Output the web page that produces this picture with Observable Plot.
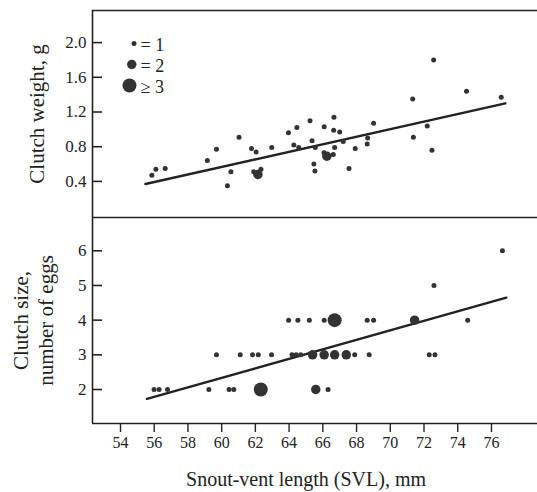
<!DOCTYPE html>
<html><head><meta charset="utf-8">
<script src="https://cdn.jsdelivr.net/npm/d3@7"></script>
<script src="https://cdn.jsdelivr.net/npm/@observablehq/plot@0.6"></script>
<style>
html,body{margin:0;padding:0;background:#fff;}
#chart svg{display:block;overflow:visible;}
</style></head><body><div id="chart"></div>
<script>
// ---- data ----
const xTicks = [54, 56, 58, 60, 62, 64, 66, 68, 70, 72, 74, 76];
const weightTicks = [0.4, 0.8, 1.2, 1.6, 2.0];
const sizeTicks = [2, 3, 4, 5, 6];

// Upper panel: clutch weight (g) vs SVL (mm); count = number of overlapping females
const svlW = [55.86, 56.10, 56.65, 59.15, 59.69, 61.03, 60.55, 60.34, 61.77, 62.04, 62.15, 61.90, 62.33,
  62.97, 63.96, 64.46, 64.28, 64.57, 65.24, 65.36, 65.47, 65.53, 65.55, 66.08, 66.66, 66.64, 67.00,
  67.21, 66.70, 66.24, 66.07, 66.62, 67.55, 67.92, 68.66, 68.63, 69.01, 71.33, 71.37, 72.19, 72.47,
  72.57, 74.52, 76.58];
const weightG = [0.47, 0.54, 0.55, 0.64, 0.77, 0.91, 0.51, 0.35, 0.78, 0.74, 0.48, 0.51, 0.54,
  0.79, 0.96, 1.02, 0.82, 0.79, 1.10, 0.87, 0.60, 0.52, 0.79, 1.03, 1.14, 0.99, 0.97,
  0.86, 0.79, 0.69, 0.73, 0.71, 0.55, 0.78, 0.90, 0.83, 1.07, 1.35, 0.91, 1.04, 0.76,
  1.80, 1.44, 1.37];
const countW = [1, 1, 1, 1, 1, 1, 1, 1, 1, 1, 2, 1, 1,
  1, 1, 1, 1, 1, 1, 1, 1, 1, 1, 1, 1, 1, 1,
  1, 1, 2, 1, 1, 1, 1, 1, 1, 1, 1, 1, 1, 1,
  1, 1, 1];
const fitWSvl = [55.48, 76.82];
const fitWG = [0.37, 1.30];

// Lower panel: clutch size (eggs) vs SVL (mm)
const svlS = [55.99, 56.29, 56.79, 59.24, 60.44, 60.72, 62.32, 65.58, 66.31,
  59.69, 61.10, 61.83, 62.17, 62.96, 64.17, 64.42, 64.69, 65.39, 66.08, 66.70, 67.39, 67.89, 68.75, 72.31, 72.65,
  63.97, 64.52, 65.20, 66.08, 66.70, 68.63, 69.01, 71.44, 74.59,
  72.59, 76.65];
const eggs = [2, 2, 2, 2, 2, 2, 2, 2, 2,
  3, 3, 3, 3, 3, 3, 3, 3, 3, 3, 3, 3, 3, 3, 3, 3,
  4, 4, 4, 4, 4, 4, 4, 4, 4,
  5, 6];
const countS = [1, 1, 1, 1, 1, 1, 3, 2, 1,
  1, 1, 1, 1, 1, 1, 1, 1, 2, 2, 2, 2, 1, 1, 1, 1,
  1, 1, 1, 1, 3, 1, 1, 2, 1,
  1, 1];
const fitSSvl = [55.57, 76.88];
const fitSEggs = [1.73, 4.65];

const legendCounts = [1, 2, 3];
const legendLabels = ["= 1", "= 2", "\u2265 3"];

const xLabel = "Snout-vent length (SVL), mm";
const yLabelTop = "Clutch weight, g";
const yLabelBottom = "Clutch size,\nnumber of eggs";

// ---- layout ----
const W = 537, ML = 92;
const xDomain = [52.34, 78.73];
const yDomTop = [-0.016, 2.37];
const yDomBot = [1.02, 6.96];
const font = "'Liberation Serif', 'Times New Roman', serif";
const ink = "#222";
const dotFill = "#333";
const rMin = 2.5, rMax = 7;
const rScale = {type: "linear", domain: [1, 3], range: [rMin, rMax]};
const rOf = n => rMin + (n - 1) * (rMax - rMin) / 2;
const style = `font-family: ${font}; background: transparent; color: ${ink};`;

const weightData = svlW.map((x, i) => ({x, y: weightG[i], n: countW[i]}));
const sizeData = svlS.map((x, i) => ({x, y: eggs[i], n: countS[i]}));
const fitW = fitWSvl.map((x, i) => ({x, y: fitWG[i]}));
const fitS = fitSSvl.map((x, i) => ({x, y: fitSEggs[i]}));

const legendMarks = legendCounts.flatMap((n, i) => {
  const dy = 33 + i * 21;
  return [
    Plot.dot([n], {frameAnchor: "top-left", r: d => d, dx: 44 - rOf(n), dy, fill: dotFill}),
    Plot.text([legendLabels[i]], {frameAnchor: "top-left", text: d => d, dx: 48, dy: dy + 1.5,
      textAnchor: "start", lineAnchor: "middle", fontSize: 18, fontFamily: font, fill: ink})
  ];
});

const topPlot = Plot.plot({
  width: W, height: 217, marginLeft: ML, marginRight: 0, marginTop: 10, marginBottom: 0,
  style,
  x: {domain: xDomain, axis: null},
  y: {domain: yDomTop, axis: null},
  r: rScale,
  marks: [
    Plot.ruleX([xDomain[0]], {stroke: ink, strokeWidth: 1.6}),
    Plot.ruleY([yDomTop[1], yDomTop[0]], {stroke: ink, strokeWidth: 1.6}),
    Plot.tickY(weightTicks, {y: d => d, insetRight: (W - ML) - 10, stroke: ink, strokeWidth: 1.6}),
    Plot.axisY({ticks: weightTicks, tickSize: 0, tickPadding: 6, fontSize: 17, fontFamily: font, tickFormat: d3.format(".1f"), label: null, fill: ink}),
    Plot.text([yLabelTop], {frameAnchor: "left", text: d => d, rotate: -90, dx: -49, lineAnchor: "bottom", textAnchor: "middle", fontSize: 21, fontFamily: font, fill: ink}),
    Plot.line(fitW, {x: "x", y: "y", stroke: ink, strokeWidth: 2.4}),
    Plot.dot(weightData, {x: "x", y: "y", r: "n", fill: dotFill}),
    ...legendMarks
  ]
});

const bottomPlot = Plot.plot({
  width: W, height: 275, marginLeft: ML, marginRight: 0, marginTop: 0, marginBottom: 69,
  style,
  x: {domain: xDomain, axis: null},
  y: {domain: yDomBot, axis: null},
  r: rScale,
  marks: [
    Plot.ruleX([xDomain[0]], {stroke: ink, strokeWidth: 1.6}),
    Plot.ruleY([yDomBot[0]], {stroke: ink, strokeWidth: 1.6}),
    Plot.tickY(sizeTicks, {y: d => d, insetRight: (W - ML) - 10, stroke: ink, strokeWidth: 1.6}),
    Plot.axisY({ticks: sizeTicks, tickSize: 0, tickPadding: 6, fontSize: 17, fontFamily: font, tickFormat: d3.format("d"), label: null, fill: ink}),
    Plot.axisX({ticks: xTicks, tickSize: 9, tickPadding: 4, fontSize: 16, fontFamily: font, tickFormat: d3.format("d"), label: null, stroke: ink, strokeWidth: 1.4, fill: ink}),
    Plot.text([xLabel], {frameAnchor: "bottom", text: d => d, dx: -9, dy: 62, lineAnchor: "bottom", fontSize: 20, fontFamily: font, fill: ink}),
    Plot.text([yLabelBottom], {frameAnchor: "left", text: d => d, rotate: -90, dx: -40, lineAnchor: "bottom", textAnchor: "middle", lineHeight: 1.15, fontSize: 21, fontFamily: font, fill: ink}),
    Plot.line(fitS, {x: "x", y: "y", stroke: ink, strokeWidth: 2.4}),
    Plot.dot(sizeData, {x: "x", y: "y", r: "n", fill: dotFill})
  ]
});

const chart = document.getElementById("chart");
chart.appendChild(topPlot);
chart.appendChild(bottomPlot);
</script>
</body></html>
